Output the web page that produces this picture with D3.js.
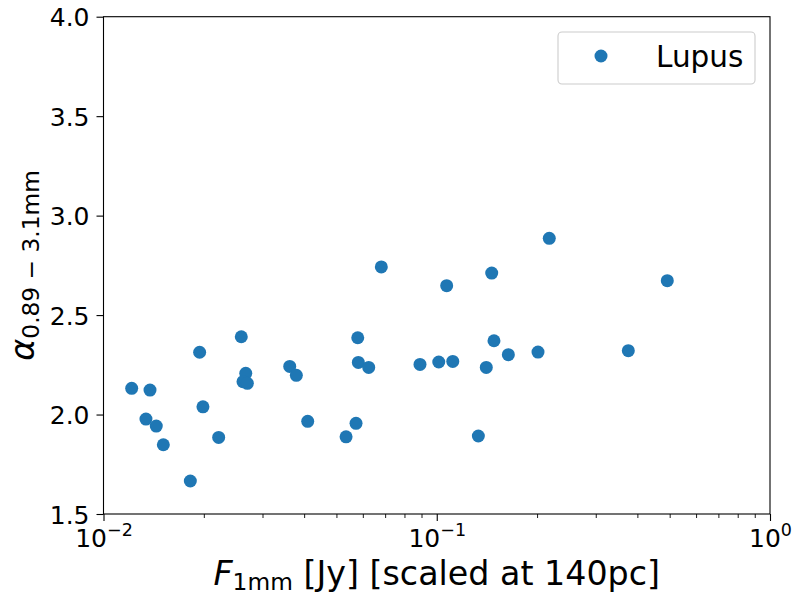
<!DOCTYPE html>
<html>
<head>
<meta charset="utf-8">
<script src="https://cdn.jsdelivr.net/npm/d3@7"></script>
<style>
  html, body { margin: 0; padding: 0; background: #ffffff; }
  svg { display: block; font-family: "DejaVu Sans", sans-serif; }
</style>
</head>
<body>
<svg id="chart" width="794" height="596"></svg>
<script>
// Lupus discs: 1 mm flux (Jy, scaled to 140 pc) and spectral index 0.89-3.1 mm
const flux1mm = [
  0.01215, 0.01379, 0.01341, 0.01440, 0.01512, 0.01822, 0.01943, 0.01988,
  0.02216, 0.02591, 0.02672, 0.02622, 0.02702, 0.03621, 0.03790, 0.04100,
  0.05344, 0.05725, 0.05793, 0.05817, 0.06249, 0.06818, 0.08907, 0.1014,
  0.1071, 0.1117, 0.1333, 0.1408, 0.1462, 0.1485, 0.1640, 0.2013,
  0.2176, 0.3757, 0.4918
];
const alphaMm = [
  2.132, 2.123, 1.977, 1.942, 1.848, 1.666, 2.313, 2.039,
  1.885, 2.391, 2.207, 2.165, 2.157, 2.242, 2.197, 1.966,
  1.888, 1.956, 2.386, 2.262, 2.237, 2.742, 2.252, 2.264,
  2.648, 2.267, 1.892, 2.237, 2.711, 2.371, 2.301, 2.314,
  2.886, 2.321, 2.673
];
const yTicks = [1.5, 2.0, 2.5, 3.0, 3.5, 4.0];
const xMajorTicks = [0.01, 0.1, 1];
const xMajorExponents = ["−2", "−1", "0"];
const seriesName = "Lupus";

const svg = d3.select("#chart");
const plotLeft = 103.5, plotRight = 770, plotTop = 16.7, plotBottom = 514;
const blue = "#1f77b4";
const tickFont = 25, labelFont = 33.3, legendFont = 29.5;

const x = d3.scaleLog().domain([0.01, 1]).range([plotLeft, plotRight]);
const y = d3.scaleLinear().domain([1.5, 4.0]).range([plotBottom, plotTop]);

// minor ticks: 2..9 within each decade
const xMinorTicks = [];
for (let d = 0; d < xMajorTicks.length - 1; d++) {
  for (let k = 2; k <= 9; k++) xMinorTicks.push(xMajorTicks[d] * k);
}

// points
svg.append("g")
  .selectAll("circle")
  .data(flux1mm.map((f, i) => ({ f, a: alphaMm[i] })))
  .join("circle")
  .attr("cx", d => x(d.f))
  .attr("cy", d => y(d.a))
  .attr("r", 6.5)
  .attr("fill", blue);

// frame
svg.append("rect")
  .attr("x", plotLeft).attr("y", plotTop)
  .attr("width", plotRight - plotLeft).attr("height", plotBottom - plotTop)
  .attr("fill", "none").attr("stroke", "#000").attr("stroke-width", 1.1);

// y axis
const yAxis = d3.axisLeft(y).tickValues(yTicks).tickFormat(d3.format(".1f"))
  .tickSizeInner(7).tickSizeOuter(0).tickPadding(7);
const gy = svg.append("g").attr("transform", `translate(${plotLeft},0)`).call(yAxis);
gy.select(".domain").remove();
gy.selectAll(".tick line").attr("stroke", "#000").attr("stroke-width", 1.1);
gy.selectAll(".tick text")
  .attr("font-family", "DejaVu Sans").attr("font-size", tickFont)
  .attr("fill", "#000").attr("dy", "0.36em");

// x axis: minor ticks
const gxMinor = svg.append("g").attr("transform", `translate(0,${plotBottom})`)
  .call(d3.axisBottom(x).tickValues(xMinorTicks).tickFormat("").tickSizeInner(4).tickSizeOuter(0));
gxMinor.select(".domain").remove();
gxMinor.selectAll(".tick line").attr("stroke", "#000").attr("stroke-width", 0.9);

// x axis: major ticks with power-of-ten labels
const gx = svg.append("g").attr("transform", `translate(0,${plotBottom})`)
  .call(d3.axisBottom(x).tickValues(xMajorTicks).tickFormat("").tickSizeInner(7).tickSizeOuter(0));
gx.select(".domain").remove();
gx.selectAll(".tick line").attr("stroke", "#000").attr("stroke-width", 1.1);
gx.selectAll(".tick").each(function(d, i) {
  const t = d3.select(this).append("text")
    .attr("x", 0).attr("y", 32.5)
    .attr("text-anchor", "middle")
    .attr("font-family", "DejaVu Sans").attr("font-size", tickFont)
    .attr("fill", "#000");
  t.append("tspan").text("10");
  t.append("tspan").attr("font-size", tickFont * 0.7).attr("dy", -11)
    .text(xMajorExponents[i]);
});

// x label
const xl = svg.append("text")
  .attr("x", (plotLeft + plotRight) / 2).attr("y", 585)
  .attr("text-anchor", "middle")
  .attr("font-family", "DejaVu Sans").attr("font-size", labelFont)
  .attr("fill", "#000");
xl.append("tspan").attr("font-style", "italic").text("F");
xl.append("tspan").attr("font-size", labelFont * 0.7).attr("dy", 5).text("1mm");
xl.append("tspan").attr("dy", -5).text(" [Jy] [scaled at 140pc]");

// y label
const yl = svg.append("text")
  .attr("transform", `translate(34,${(plotTop + plotBottom) / 2}) rotate(-90)`)
  .attr("text-anchor", "middle")
  .attr("font-family", "DejaVu Sans").attr("font-size", labelFont)
  .attr("fill", "#000");
yl.append("tspan").attr("font-style", "italic").text("α");
yl.append("tspan").attr("font-size", labelFont * 0.7).attr("dy", 5)
  .text("0.89 − 3.1mm");

// legend
const lg = svg.append("g");
lg.append("rect")
  .attr("x", 558).attr("y", 32).attr("width", 197).attr("height", 52)
  .attr("rx", 4).attr("ry", 4)
  .attr("fill", "#fff").attr("fill-opacity", 0.8)
  .attr("stroke", "#cccccc").attr("stroke-width", 1.1);
lg.append("circle").attr("cx", 601).attr("cy", 56).attr("r", 6.5).attr("fill", blue);
lg.append("text").attr("x", 656).attr("y", 66.5)
  .attr("font-family", "DejaVu Sans").attr("font-size", legendFont)
  .attr("fill", "#000").text(seriesName);
</script>
</body>
</html>
